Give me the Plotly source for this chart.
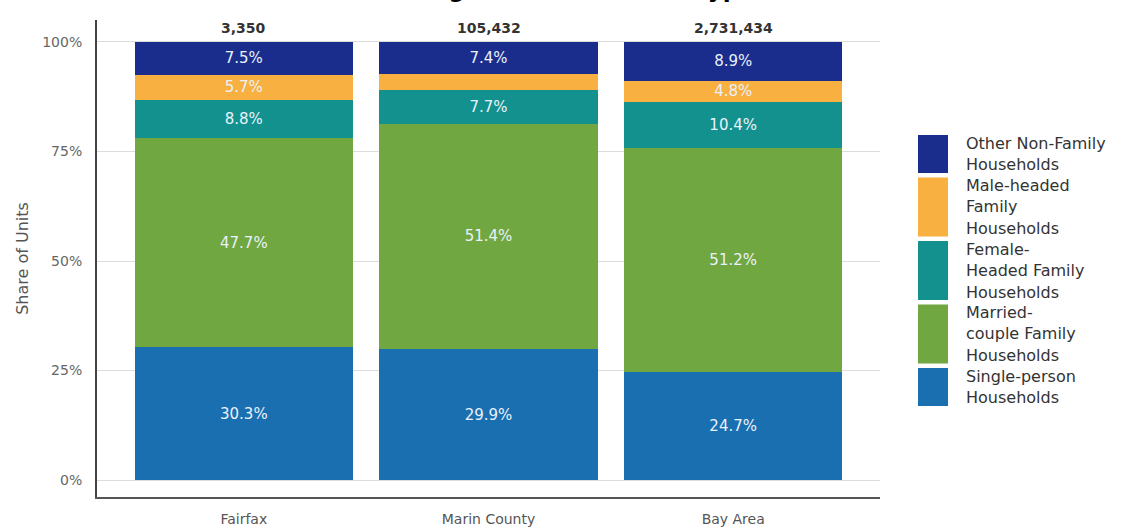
import plotly.graph_objects as go

# ---------------- data ----------------
categories = ["Fairfax", "Marin County", "Bay Area"]
totals = [3350, 105432, 2731434]

series_names = [
    "Single-person Households",
    "Married-couple Family Households",
    "Female-Headed Family Households",
    "Male-headed Family Households",
    "Other Non-Family Households",
]
single_person = [30.3, 29.9, 24.7]
married_couple = [47.7, 51.4, 51.2]
female_headed = [8.8, 7.7, 10.4]
male_headed = [5.7, 3.6, 4.8]
other_nonfamily = [7.5, 7.4, 8.9]
series_values = [single_person, married_couple, female_headed, male_headed, other_nonfamily]

colors = ["#1a6fb1", "#70a740", "#12918f", "#f8b040", "#1b2d8c"]

# legend text (top to bottom, as wrapped in the reference)
legend_lines = [
    ["Other Non-Family", "Households"],
    ["Male-headed", "Family", "Households"],
    ["Female-", "Headed Family", "Households"],
    ["Married-", "couple Family", "Households"],
    ["Single-person", "Households"],
]
legend_colors = colors[::-1]

title_text = "Figure 9: Household Type, 2019"
y_title = "Share of Units"

# ---------------- layout geometry (pixels) ----------------
W, H = 1135, 531
L, R, T, B = 97, 255, 20, 34
plot_w = W - L - R
plot_h = H - T - B
FONT = "DejaVu Sans"


def px_to_paper_x(px):
    return (px - L) / plot_w


def px_to_paper_y(py):
    return (H - B - py) / plot_h


fig = go.Figure()
for name, vals, col in zip(series_names, series_values, colors):
    fig.add_trace(go.Bar(
        x=categories,
        y=[v / 100 for v in vals],
        name=name,
        marker=dict(color=col, line=dict(width=0)),
        text=[f"{v:.1f}%" if v >= 4 else "" for v in vals],
        textposition="inside",
        insidetextanchor="middle",
        textangle=0,
        textfont=dict(family=FONT, size=15, color="#eaf1fa"),
        hoverinfo="x+y+name",
        showlegend=False,
    ))

annotations = []
# totals above bars
for cat, tot in zip(categories, totals):
    annotations.append(dict(
        x=cat, y=1.0, xref="x", yref="y", yanchor="bottom", yshift=4,
        text=f"<b>{tot:,}</b>", showarrow=False,
        font=dict(family=FONT, size=14, color="#333333"),
    ))

# title (cut off at top as in reference)
annotations.append(dict(
    x=px_to_paper_x(423), y=px_to_paper_y(4), xref="paper", yref="paper",
    xanchor="left", yanchor="bottom", text=f"<b>{title_text}</b>", showarrow=False,
    font=dict(family=FONT, size=23, color="#000000"),
))

# custom legend with tall swatches
shapes = []
top = 135
line_pitch = 21.5
for lines, col in zip(legend_lines, legend_colors):
    h = 21 * len(lines) - 4
    shapes.append(dict(
        type="rect", xref="paper", yref="paper",
        x0=px_to_paper_x(918), x1=px_to_paper_x(948),
        y0=px_to_paper_y(top + h), y1=px_to_paper_y(top),
        fillcolor=col, line=dict(width=0),
    ))
    for i, ln in enumerate(lines):
        annotations.append(dict(
            x=px_to_paper_x(964), y=px_to_paper_y(top + 8 + line_pitch * i),
            xref="paper", yref="paper", xanchor="left", yanchor="middle",
            text=ln, showarrow=False,
            font=dict(family=FONT, size=16, color="#333333"),
        ))
    top += h + 4.5

fig.update_layout(
    width=W, height=H,
    margin=dict(l=L, r=R, t=T, b=B, autoexpand=False),
    barmode="stack",
    bargap=0.107,
    plot_bgcolor="white",
    paper_bgcolor="white",
    font=dict(family=FONT, color="#555555"),
    uniformtext=dict(minsize=15, mode="show"),
    annotations=annotations,
    shapes=shapes,
    xaxis=dict(
        range=[-0.6, 2.6],
        showline=True, linecolor="#555555", linewidth=2,
        ticks="", showgrid=False,
        automargin=False,
        ticklabelstandoff=8,
        tickfont=dict(family=FONT, size=14, color="#555555"),
    ),
    yaxis=dict(
        range=[-0.0388, 1.0502],
        tickvals=[0, 0.25, 0.5, 0.75, 1.0],
        tickformat=".0%",
        showgrid=True, gridcolor="#dcdcdc", gridwidth=1,
        zeroline=False,
        automargin=False,
        showline=True, linecolor="#444444", linewidth=2,
        ticklabelstandoff=10,
        tickfont=dict(family=FONT, size=14, color="#666666"),
        title=dict(text=y_title, font=dict(family=FONT, size=16, color="#555555"), standoff=10),
    ),
)

fig.write_html("out.html")
